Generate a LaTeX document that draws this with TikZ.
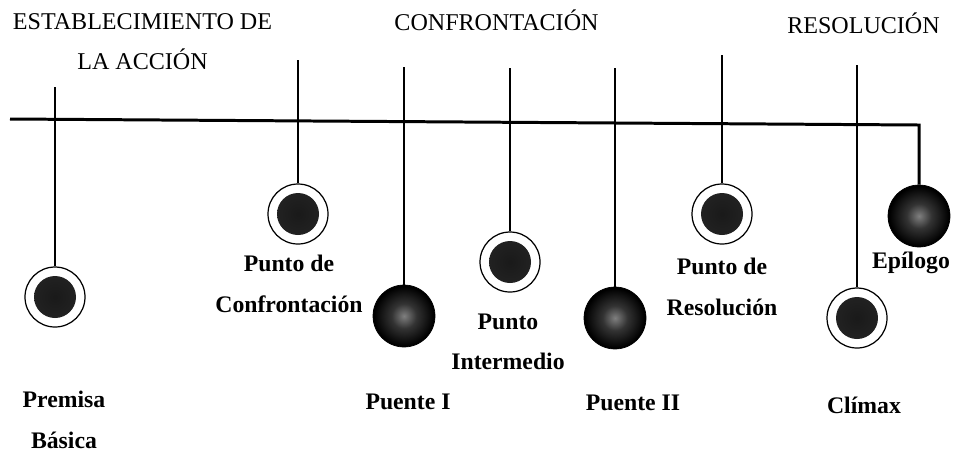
\documentclass[tikz,border=0pt]{standalone}
\usepackage{fontspec}
\setmainfont{Liberation Serif}
\usepackage{tikz}

\pgfdeclareradialshading{blob}{\pgfpoint{0bp}{0bp}}{color(0bp)=(black!90); color(28bp)=(black!85); color(42bp)=(black!50); color(50bp)=(white)}
\pgfdeclareradialshading{darkball}{\pgfpoint{0bp}{0bp}}{color(0bp)=(black!50); color(10bp)=(black!80); color(24bp)=(black); color(50bp)=(black)}

\tikzset{
	hilo/.style = {line width=0.6pt},
	eje/.style = {line width=1.7pt},
	bola/.style = {circle, draw, line width=0.7pt, fill=white, minimum size=1.2cm, inner sep=0pt,
		path picture={\shade[shading=blob] (path picture bounding box.center) circle (0.42cm);}},
	bolanegra/.style = {circle, draw, minimum size=1.24cm, inner sep=0pt, shading=darkball},
	titulo/.style = {font=\fontsize{13.7}{22.8}\selectfont, align=center},
	etiqueta/.style = {font=\fontsize{13.5}{23}\selectfont\bfseries, align=center},
}

\begin{document}
\begin{tikzpicture}
	\useasboundingbox (0,0) rectangle (19.18,9.02);
	
	% titulos
	\node[titulo] (estab) at (2.85,8.18) {ESTABLECIMIENTO DE\\LA ACCIÓN};
	\node[titulo, anchor=base] (confr) at (9.93,8.42) {CONFRONTACIÓN};
	\node[titulo, anchor=base] (resol) at (17.27,8.36) {RESOLUCIÓN};
	
	% bolas
	\node[bola] (premisa) at (1.10,3.08) {};
	\node[bola] (conf) at (5.96,4.74) {};
	\node[bolanegra] (puente1) at (8.08,2.70) {};
	\node[bola] (inter) at (10.20,3.78) {};
	\node[bolanegra] (puente2) at (12.30,2.66) {};
	\node[bola] (resolucion) at (14.44,4.74) {};
	\node[bola] (climax) at (17.14,2.66) {};
	\node[bolanegra] (epilogo) at (18.38,4.70) {};
	
	% eje
	\coordinate (ini) at (0.20,6.64);
	\coordinate (esq) at (18.38,6.52);
	\draw[eje] (ini) -- (esq) -- (epilogo);
	
	% hilos
	\coordinate (t1) at (1.10,7.28);
	\coordinate (t2) at (5.96,7.82);
	\coordinate (t3) at (8.08,7.68);
	\coordinate (t4) at (10.20,7.66);
	\coordinate (t5) at (12.30,7.66);
	\coordinate (t6) at (14.44,7.92);
	\coordinate (t7) at (17.14,7.72);
	\draw[hilo] (t1) -- (premisa);
	\draw[hilo] (t2) -- (conf);
	\draw[hilo] (t3) -- (puente1);
	\draw[hilo] (t4) -- (inter);
	\draw[hilo] (t5) -- (puente2);
	\draw[hilo] (t6) -- (resolucion);
	\draw[hilo] (t7) -- (climax);
	
	% etiquetas
	\node[etiqueta] (lpremisa) at (1.28,0.62) {Premisa\\Básica};
	\node[etiqueta] (lconf) at (5.78,3.34) {Punto de\\Confrontación};
	\node[etiqueta] (lpuente1) at (8.16,0.98) {Puente I};
	\node[etiqueta] (linter) at (10.16,2.18) {Punto\\Intermedio};
	\node[etiqueta] (lpuente2) at (12.66,0.96) {Puente II};
	\node[etiqueta] (lresol) at (14.44,3.28) {Punto de\\Resolución};
	\node[etiqueta] (lepilogo) at (18.22,3.76) {Epílogo};
	\node[etiqueta] (lclimax) at (17.28,0.92) {Clímax};
\end{tikzpicture}
\end{document}
